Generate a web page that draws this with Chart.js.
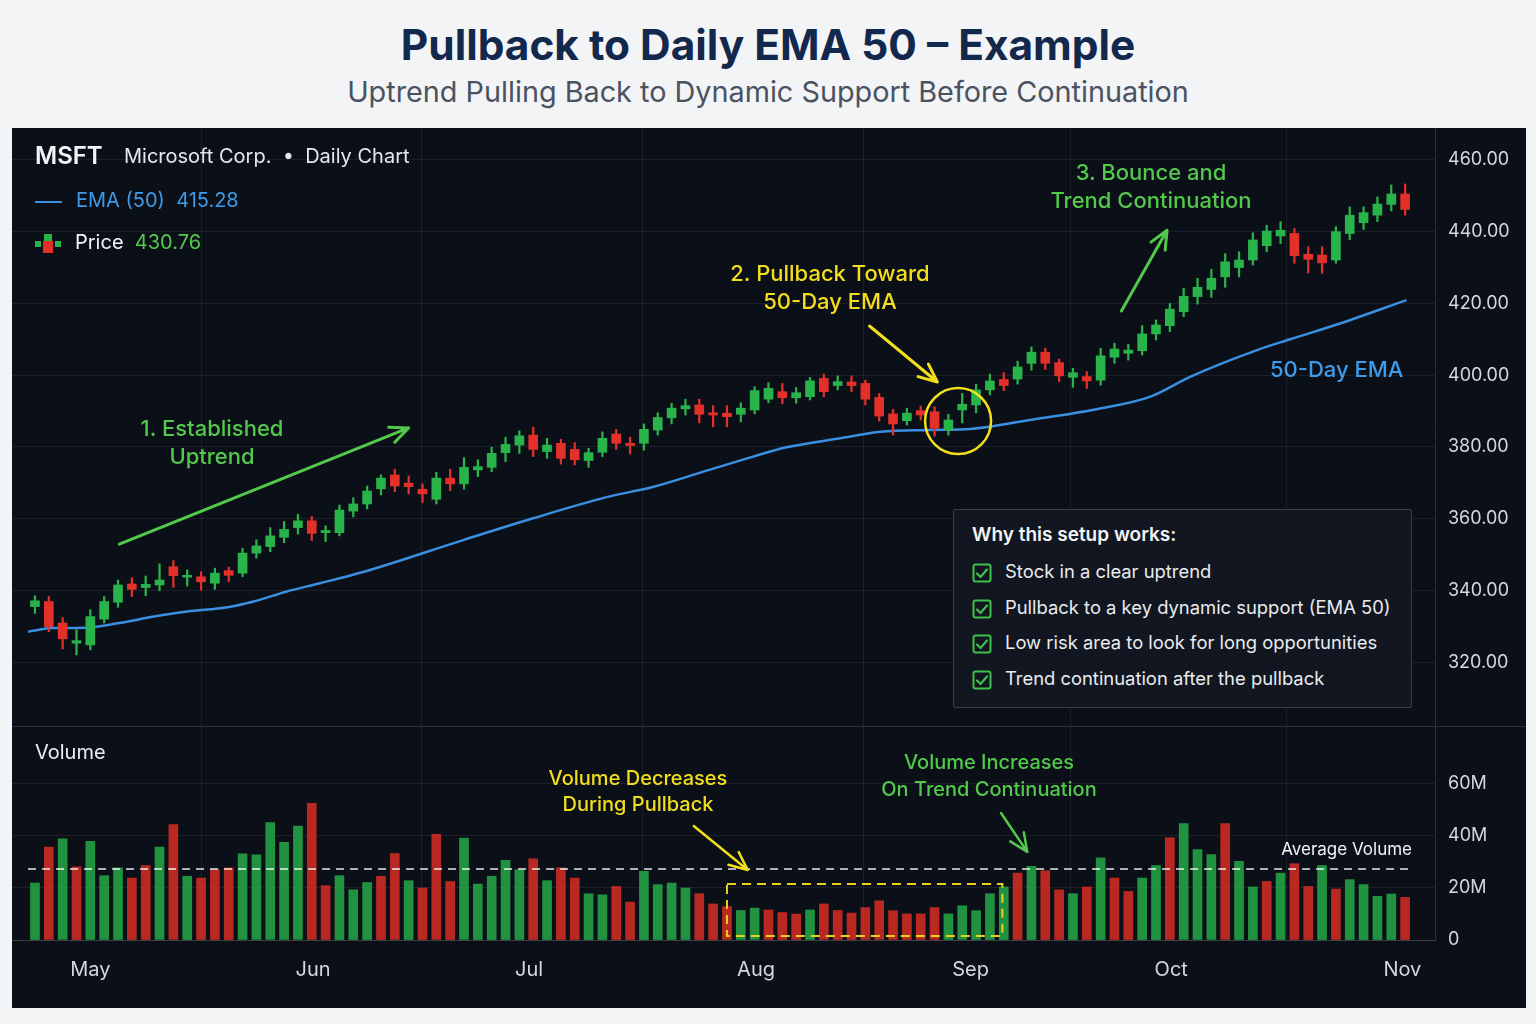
<!DOCTYPE html>
<html>
<head>
<meta charset="utf-8">
<title>Pullback to Daily EMA 50 – Example</title>
<script src="https://cdn.jsdelivr.net/npm/chart.js@4.4.0/dist/chart.umd.min.js"></script>
<style>
  body { margin: 0; width: 1536px; height: 1024px; background: #f3f4f6; position: relative; overflow: hidden;
         font-family: Inter, "Noto Sans", sans-serif; }
  .title { position: absolute; left: 0; width: 1536px; top: 17px; line-height: 56px; text-align: center;
           font-size: 42.4px; font-weight: 700; color: #13284d; }
  .subtitle { position: absolute; left: 0; width: 1536px; top: 74px; line-height: 36px; text-align: center;
              font-size: 28.8px; color: #4a5261; }
  #panel { position: absolute; left: 12px; top: 128px; width: 1514px; height: 880px; background: #0b0f17; }
  #priceWrap { position: absolute; left: 0; top: 0; width: 1514px; height: 598px; }
  #sep { position: absolute; left: 0; top: 598px; width: 1514px; height: 1px; background: #2b303a; }
  #volWrap { position: absolute; left: 0; top: 599px; width: 1514px; height: 281px; }
  .txt { position: absolute; white-space: nowrap; z-index: 3; }
  .center { transform: translateX(-50%); text-align: center; }
  .right { transform: translateX(-100%); }
  #infoBox { position: absolute; left: 953px; top: 509px; width: 457px; height: 197px; z-index: 2;
             background: #111620; border: 1px solid #3a404b; border-radius: 2px; }
</style>
</head>
<body>
<div class="title">Pullback to Daily EMA 50 – Example</div>
<div class="subtitle">Uptrend Pulling Back to Dynamic Support Before Continuation</div>
<div id="panel">
  <div id="priceWrap"><canvas id="priceChart"></canvas></div>
  <div id="sep"></div>
  <div id="volWrap"><canvas id="volumeChart"></canvas></div>
</div>
<div id="infoBox"></div>

<script>
// ---- data (one candle per trading day, index 0..99) ----
const openP  = [335.5,336.9,330.9,325.3,324.8,332.0,336.7,341.8,340.8,341.5,346.6,343.7,343.8,342.0,345.5,344.8,350.4,352.2,354.8,357.5,
                359.4,356.1,356.1,362.1,364.1,368.3,372.2,369.9,368.2,365.4,371.3,369.7,373.6,374.3,378.4,380.5,383.3,378.7,381.0,379.3,
                376.2,378.5,383.6,381.0,381.0,384.7,388.1,390.6,391.7,389.5,389.4,389.1,390.3,393.3,395.4,393.7,394.0,399.1,397.1,398.1,
                397.7,393.8,389.2,387.3,390.1,389.8,384.7,390.3,391.7,395.9,398.8,398.9,403.3,406.4,403.5,399.4,399.6,398.6,405.0,406.1,
                406.8,411.5,413.8,417.7,421.9,423.9,427.4,430.0,432.1,436.1,438.8,439.5,433.7,433.5,432.1,439.5,442.5,444.6,447.6,450.5];
const highP  = [338.5,338.3,332.4,329.0,334.6,338.3,342.9,343.5,344.0,347.4,348.3,345.7,345.2,346.2,346.5,351.7,354.1,357.5,359.2,361.2,
                360.6,358.0,363.8,365.8,369.1,372.2,373.8,371.9,369.7,372.9,373.8,377.0,376.4,379.9,382.7,384.5,385.5,382.4,382.1,381.2,
                379.6,384.2,384.9,382.7,386.4,389.5,392.2,393.3,393.3,391.5,391.5,392.3,396.8,397.9,397.7,396.6,399.4,400.3,399.8,399.8,
                398.6,394.9,390.5,390.8,391.4,391.2,389.1,394.9,397.5,400.3,400.7,403.9,407.9,407.5,404.5,401.9,401.0,407.5,408.9,408.6,
                413.8,415.4,420.0,424.2,427.0,429.5,433.9,434.4,439.7,441.8,442.8,440.9,435.8,435.8,441.4,446.9,446.9,449.7,453.0,453.3];
const lowP   = [333.6,328.5,323.7,322.0,323.4,330.9,335.3,338.3,338.5,339.9,340.9,341.2,340.1,340.3,342.4,343.8,349.0,350.8,353.3,355.7,
                353.9,353.6,355.2,360.5,362.7,366.6,367.5,366.9,364.5,364.1,367.8,368.2,371.7,373.1,375.9,378.2,377.3,376.8,375.2,375.0,
                374.3,377.3,379.3,378.0,379.1,383.3,386.4,388.9,386.7,385.6,385.6,387.0,389.2,392.3,392.0,392.2,393.1,394.0,395.9,395.4,
                391.7,387.2,383.3,386.1,387.5,383.0,383.3,386.7,389.5,394.5,395.7,397.5,401.4,401.6,398.2,396.6,396.3,397.2,403.3,404.2,
                405.6,409.8,412.1,416.3,419.8,421.7,424.5,427.4,430.7,434.4,436.7,431.2,428.5,428.4,431.2,437.8,440.6,442.8,445.8,444.6];
const closeP = [337.1,329.9,326.5,326.0,332.7,336.9,341.5,340.3,341.7,342.9,344.1,344.2,342.4,344.8,344.2,350.4,352.4,355.2,357.0,359.4,
                355.9,356.7,362.4,364.1,367.7,371.3,369.1,368.9,366.9,371.3,369.7,374.3,374.5,378.2,380.7,383.1,379.3,380.5,376.8,376.4,
                378.4,382.4,381.0,380.4,384.9,388.2,390.8,391.5,389.1,388.9,388.4,390.8,395.7,396.3,393.7,395.1,398.4,395.4,398.2,397.1,
                393.3,388.6,386.4,389.4,388.9,385.2,387.5,391.9,395.9,398.4,397.1,402.3,406.4,403.3,399.8,400.7,398.4,405.4,407.3,407.0,
                411.5,414.0,418.4,422.0,424.5,427.0,431.6,432.1,437.7,440.2,440.4,433.3,432.3,431.3,440.0,444.6,445.3,447.7,450.5,446.2];

// volume in millions, and whether the bar is drawn green (1) or red (0)
const volumeM = [21.8,35.6,38.7,28.0,37.8,24.6,27.6,23.7,28.5,35.6,44.2,24.4,23.7,26.9,27.6,33.0,32.6,44.9,37.4,43.6,
                 52.3,20.8,24.6,19.2,22.0,24.4,33.1,22.7,19.9,40.4,22.4,39.0,21.4,24.4,30.5,26.9,31.1,22.7,27.6,23.7,
                 17.7,17.3,20.5,14.5,26.3,21.2,21.8,19.9,17.7,13.8,12.8,11.3,12.2,11.5,10.5,9.9,11.5,13.8,11.3,10.3,
                 12.4,15.0,11.2,10.0,10.0,12.4,10.0,13.1,11.2,17.7,20.3,25.6,28.2,26.5,19.2,17.7,20.3,31.4,23.7,18.6,
                 23.7,28.5,39.1,44.5,34.6,32.7,44.5,30.1,20.3,22.4,25.6,29.2,20.5,28.5,19.5,23.1,21.2,16.7,17.6,16.3];
const volumeUp = [1,0,1,0,1,1,1,0,0,1,0,1,0,0,0,1,1,1,1,1,
                  0,0,1,1,1,0,0,1,0,0,0,1,1,1,1,1,0,1,0,0,
                  1,1,0,0,1,1,1,1,0,0,0,1,1,0,0,0,1,0,0,0,
                  0,0,0,0,0,0,1,1,1,1,1,0,1,0,0,1,0,1,0,0,
                  1,1,0,1,1,1,0,1,1,0,1,0,0,1,0,1,1,1,1,0];
const avgVolumeM = 27.2;

// 50-day EMA read at sample positions (candle index, price)
const emaIdx = [-0.5,1.3,3.7,6.1,8.6,11.0,13.9,15.8,18.2,20.6,23.5,31.0,36.0,41.3,44.7,48.3,51.9,54.3,58.2,61.1,64.7,67.6,71.9,76.7,80.6,83.5,88.3,90.7,94.3,99.1];
const emaVal = [328.5,329.5,329.6,330.9,332.7,334.1,335.3,336.9,339.7,342.0,344.9,354.1,360.1,366.0,368.9,373.1,377.3,379.9,382.4,384.2,384.7,385.0,387.5,390.5,394.0,399.6,407.0,410.0,414.4,420.9];

// month ticks on the time axis (position in candle units)
const monthIdx   = [4, 20.1, 35.7, 52.1, 67.6, 82.1, 98.8];
const monthNames = ['May', 'Jun', 'Jul', 'Aug', 'Sep', 'Oct', 'Nov'];

// axis ranges (so both panes share the same horizontal layout)
const X_MIN = -1.66, X_MAX = 101.16;
const P_MIN = 302.2, P_MAX = 468.9;
const V_MAX = 81.5;

const FONT = 'Inter, "Noto Sans", sans-serif';
const UP = '#29b34b', DOWN = '#e3302a';
const GREEN = '#52c94a', YELLOW = '#f2de1c', BLUE = '#3e9bea';
const GRID = 'rgba(255,255,255,0.07)';

// ---- shared x axis ----
function timeAxis(showLabels) {
    return {
        type: 'linear',
        offset: false,
        min: X_MIN,
        max: X_MAX,
        afterBuildTicks: s => { s.ticks = monthIdx.map(v => ({ value: v })); },
        afterFit: s => { s.height = showLabels ? 68 : 0; s.paddingLeft = 0; s.paddingRight = 0; },
        grid: { color: GRID, drawTicks: false },
        border: { display: showLabels, color: '#3a3f48' },
        ticks: {
            display: showLabels, autoSkip: false, maxRotation: 0, padding: 18,
            color: '#d4d7dd', font: { family: FONT, size: 20 },
            callback: v => monthNames[monthIdx.indexOf(v)] || ''
        }
    };
}

function rightAxis(min, max, lastTick, fmt) {
    return {
        type: 'linear',
        position: 'right',
        min: min,
        max: max,
        afterFit: s => { s.width = 91; s.paddingTop = 0; s.paddingBottom = 0; },
        grid: { color: c => (c.tick && c.tick.value > lastTick) ? 'rgba(0,0,0,0)' : GRID, drawTicks: false },
        border: { display: true, color: '#2b303a' },
        ticks: {
            stepSize: 20, includeBounds: false, padding: 13,
            color: '#d4d7dd', font: { family: FONT, size: 18 },
            callback: v => v > lastTick ? null : fmt(v)
        }
    };
}

// ---- annotation helpers ----
function drawArrow(ctx, x1, y1, x2, y2, color, width) {
    const a = Math.atan2(y2 - y1, x2 - x1), L = 20, w = 0.42;
    ctx.save();
    ctx.strokeStyle = color;
    ctx.lineWidth = width;
    ctx.lineCap = 'round';
    ctx.lineJoin = 'round';
    ctx.beginPath();
    ctx.moveTo(x1, y1);
    ctx.lineTo(x2, y2);
    ctx.moveTo(x2 - L * Math.cos(a - w), y2 - L * Math.sin(a - w));
    ctx.lineTo(x2, y2);
    ctx.lineTo(x2 - L * Math.cos(a + w), y2 - L * Math.sin(a + w));
    ctx.stroke();
    ctx.restore();
}

// arrows given in data coordinates: [index, value]
const priceArrows = [
    { from: [6.1, 352.9], to: [27.0, 385.3], color: GREEN },
    { from: [60.3, 413.7], to: [65.2, 398.1], color: YELLOW },
    { from: [78.5, 417.9], to: [81.8, 440.4], color: GREEN }
];
const volumeArrows = [
    { from: [47.6, 43.6], to: [51.5, 26.8], color: YELLOW },
    { from: [69.8, 48.6], to: [71.7, 33.7], color: GREEN }
];

const priceNotes = {
    id: 'priceNotes',
    afterDatasetsDraw(chart) {
        const { ctx, scales: { x, y } } = chart;
        priceArrows.forEach(a => {
            drawArrow(ctx, x.getPixelForValue(a.from[0]), y.getPixelForValue(a.from[1]),
                x.getPixelForValue(a.to[0]), y.getPixelForValue(a.to[1]), a.color, 3);
        });
        // yellow circle around the touch of the EMA
        ctx.save();
        ctx.strokeStyle = YELLOW;
        ctx.lineWidth = 2.5;
        ctx.beginPath();
        ctx.arc(x.getPixelForValue(66.7), y.getPixelForValue(387.2), 33, 0, Math.PI * 2);
        ctx.stroke();
        ctx.restore();
    }
};

const volumeNotes = {
    id: 'volumeNotes',
    afterDatasetsDraw(chart) {
        const { ctx, scales: { x, y } } = chart;
        // average volume line
        ctx.save();
        ctx.strokeStyle = 'rgba(255,255,255,0.9)';
        ctx.lineWidth = 1.5;
        ctx.setLineDash([8, 6]);
        ctx.beginPath();
        ctx.moveTo(x.getPixelForValue(-0.5), y.getPixelForValue(avgVolumeM));
        ctx.lineTo(x.getPixelForValue(99.5), y.getPixelForValue(avgVolumeM));
        ctx.stroke();
        // dashed box around the low-volume pullback
        ctx.strokeStyle = '#e6d21b';
        ctx.lineWidth = 2;
        ctx.setLineDash([9, 6]);
        const x1 = x.getPixelForValue(50.0), x2 = x.getPixelForValue(69.9);
        const y1 = y.getPixelForValue(21.4), y2 = y.getPixelForValue(1.5);
        ctx.strokeRect(x1, y1, x2 - x1, y2 - y1);
        ctx.restore();
        volumeArrows.forEach(a => {
            drawArrow(ctx, x.getPixelForValue(a.from[0]), y.getPixelForValue(a.from[1]),
                x.getPixelForValue(a.to[0]), y.getPixelForValue(a.to[1]), a.color, 2.5);
        });
    }
};

// ---- price chart ----
const candleColors = openP.map((o, i) => closeP[i] >= o ? UP : DOWN);

new Chart(document.getElementById('priceChart'), {
    type: 'bar',
    data: {
        datasets: [
            {
                label: 'Body',
                data: openP.map((o, i) => ({ x: i, y: [o, closeP[i]] })),
                backgroundColor: candleColors,
                barThickness: 9,
                grouped: false,
                order: 0
            },
            {
                label: 'Wick',
                data: lowP.map((l, i) => ({ x: i, y: [l, highP[i]] })),
                backgroundColor: candleColors,
                barThickness: 1.6,
                grouped: false,
                order: 1
            },
            {
                type: 'line',
                label: 'EMA (50)',
                data: emaIdx.map((v, i) => ({ x: v, y: emaVal[i] })),
                borderColor: '#3a8fe0',
                borderWidth: 2.5,
                pointRadius: 0,
                cubicInterpolationMode: 'monotone',
                order: 2
            }
        ]
    },
    options: {
        responsive: true,
        maintainAspectRatio: false,
        animation: false,
        layout: { padding: 0 },
        plugins: { legend: { display: false }, tooltip: { enabled: false } },
        scales: {
            x: timeAxis(false),
            y: rightAxis(P_MIN, P_MAX, 460, v => v.toFixed(2))
        }
    },
    plugins: [priceNotes]
});

// ---- volume chart ----
new Chart(document.getElementById('volumeChart'), {
    type: 'bar',
    data: {
        datasets: [{
            label: 'Volume',
            data: volumeM.map((v, i) => ({ x: i, y: v })),
            backgroundColor: volumeUp.map(u => u ? 'rgba(36,165,70,0.88)' : 'rgba(210,45,36,0.88)'),
            barThickness: 9
        }]
    },
    options: {
        responsive: true,
        maintainAspectRatio: false,
        animation: false,
        layout: { padding: 0 },
        plugins: { legend: { display: false }, tooltip: { enabled: false } },
        scales: {
            x: timeAxis(true),
            y: rightAxis(0, V_MAX, 60, v => v === 0 ? '0' : v + 'M')
        }
    },
    plugins: [volumeNotes]
});

// ---- text overlays (page coordinates, y = text centre) ----
function addText(html, x, y, o) {
    const el = document.createElement('div');
    const size = o.size || 20;
    el.className = 'txt' + (o.align ? ' ' + o.align : '');
    el.innerHTML = html;
    el.style.left = x + 'px';
    el.style.top = (y - size * 0.65) + 'px';
    el.style.lineHeight = (size * 1.3) + 'px';
    el.style.fontSize = size + 'px';
    el.style.color = o.color || '#ffffff';
    el.style.fontWeight = o.weight || 400;
    document.body.appendChild(el);
}

// header / legend
addText('MSFT', 35, 156, { size: 24, weight: 600, color: '#f2f4f7' });
addText('Microsoft Corp. &nbsp;•&nbsp; Daily Chart', 124, 156, { size: 20, color: '#e6e8ec' });
addText('<span style="display:inline-block;width:27px;height:2px;background:#3a8fe0;vertical-align:middle;margin-right:14px"></span>EMA (50) &nbsp;415.28',
        35, 200, { size: 20, color: BLUE });
addText('<svg width="26" height="20" style="vertical-align:middle;margin-right:14px">' +
        '<rect x="0" y="7" width="6" height="6" fill="#29b34b"/><rect x="9" y="0" width="8" height="8" fill="#29b34b"/>' +
        '<rect x="8" y="7" width="10" height="12" fill="#e3302a"/><rect x="20" y="7" width="6" height="6" fill="#29b34b"/></svg>' +
        '<span style="color:#f2f4f7">Price</span> &nbsp;<span style="color:' + GREEN + '">430.76</span>',
        35, 242, { size: 20 });

// callouts
addText('1. Established', 212, 428, { size: 22, weight: 500, color: GREEN, align: 'center' });
addText('Uptrend', 212, 456, { size: 22, weight: 500, color: GREEN, align: 'center' });
addText('2. Pullback Toward', 830, 273, { size: 22, weight: 500, color: YELLOW, align: 'center' });
addText('50-Day EMA', 830, 301, { size: 22, weight: 500, color: YELLOW, align: 'center' });
addText('3. Bounce and', 1151, 172, { size: 22, weight: 500, color: GREEN, align: 'center' });
addText('Trend Continuation', 1151, 200, { size: 22, weight: 500, color: GREEN, align: 'center' });
addText('50-Day EMA', 1270, 369, { size: 22, weight: 500, color: BLUE });

// volume pane
addText('Volume', 35, 752, { size: 20, color: '#eceef1' });
addText('Volume Decreases', 638, 778, { size: 20, weight: 500, color: YELLOW, align: 'center' });
addText('During Pullback', 638, 804, { size: 20, weight: 500, color: YELLOW, align: 'center' });
addText('Volume Increases', 989, 762, { size: 20, weight: 500, color: GREEN, align: 'center' });
addText('On Trend Continuation', 989, 789, { size: 20, weight: 500, color: GREEN, align: 'center' });
addText('Average Volume', 1412, 849, { size: 17, color: '#f2f4f7', align: 'right' });

// info box
const checkIcon = '<svg width="20" height="20" style="vertical-align:middle;margin-right:13px">' +
    '<rect x="1.5" y="1.5" width="17" height="17" rx="2" fill="none" stroke="#3fc04a" stroke-width="2"/>' +
    '<path d="M5 10.5 L8.5 14 L15 6.5" fill="none" stroke="#3fc04a" stroke-width="2.2" stroke-linecap="round" stroke-linejoin="round"/></svg>';
const reasons = ['Stock in a clear uptrend', 'Pullback to a key dynamic support (EMA 50)',
                 'Low risk area to look for long opportunities', 'Trend continuation after the pullback'];
const reasonY = [572, 608, 643, 679];
addText('Why this setup works:', 972, 535, { size: 19, weight: 600, color: '#f2f4f7' });
reasons.forEach((r, i) => addText(checkIcon + r, 972, reasonY[i], { size: 18.4, color: '#e9ebee' }));
</script>
</body>
</html>
